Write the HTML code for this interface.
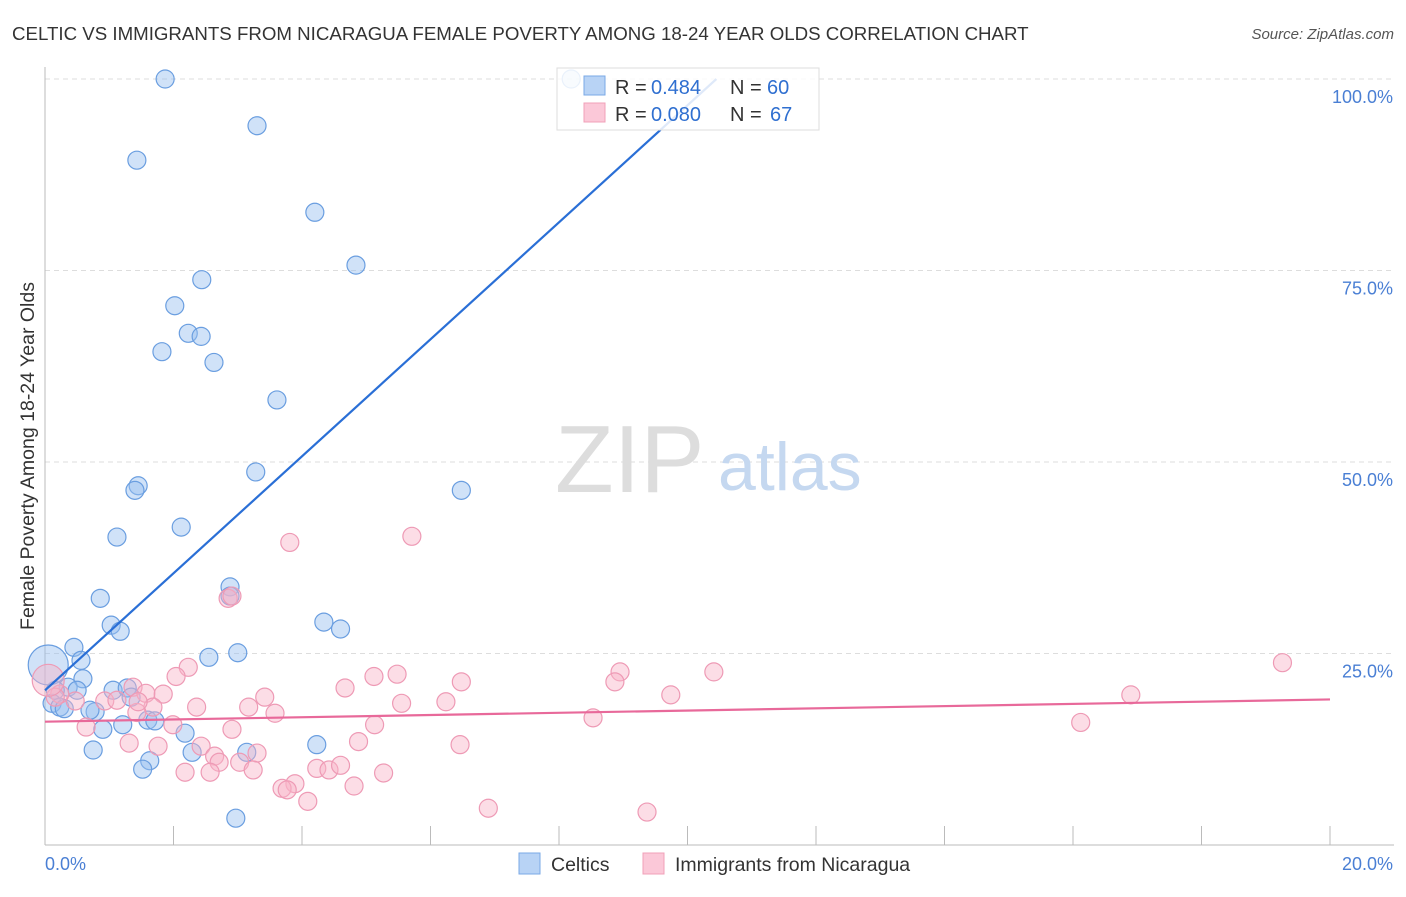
<!DOCTYPE html>
<html><head><meta charset="utf-8"><style>
body{margin:0;background:#fff;font-family:"Liberation Sans",sans-serif}
svg text{font-family:"Liberation Sans",sans-serif}
</style></head><body>
<svg id="c" width="1406" height="892">
<text x="12" y="40" font-size="18.7" fill="#333">CELTIC VS IMMIGRANTS FROM NICARAGUA FEMALE POVERTY AMONG 18-24 YEAR OLDS CORRELATION CHART</text>
<text x="1394" y="39" font-size="15" fill="#555" text-anchor="end" font-style="italic">Source: ZipAtlas.com</text>
<text x="34" y="456" font-size="19.5" fill="#333" text-anchor="middle" transform="rotate(-90 34 456)">Female Poverty Among 18-24 Year Olds</text>
<g id="grid"></g>
<text x="555" y="492" font-size="96" fill="#ddd" font-family="Liberation Serif">ZIP</text>
<text x="718" y="490" font-size="68" fill="#c5d8f0">atlas</text>
<g id="pts"></g>
<g id="lines"></g>
<g>
<rect x="557" y="68" width="262" height="62" fill="rgba(255,255,255,0.85)" stroke="#ddd"/>
<rect x="584" y="76" width="21" height="19" fill="#b8d3f5" stroke="#7aa8e6"/>
<rect x="584" y="103" width="21" height="19" fill="#fbc8d8" stroke="#f0a0b8"/>
<text x="615" y="94" font-size="20" fill="#333">R =</text>
<text x="651" y="94" font-size="20" fill="#2f6fd0">0.484</text>
<text x="730" y="94" font-size="20" fill="#333">N =</text>
<text x="767" y="94" font-size="20" fill="#2f6fd0">60</text>
<text x="615" y="121" font-size="20" fill="#333">R =</text>
<text x="651" y="121" font-size="20" fill="#2f6fd0">0.080</text>
<text x="730" y="121" font-size="20" fill="#333">N =</text>
<text x="770" y="121" font-size="20" fill="#2f6fd0">67</text>
</g>
<g>
<rect x="519" y="853" width="21" height="21" fill="#b8d3f5" stroke="#7aa8e6"/>
<text x="551" y="871" font-size="19.5" fill="#333">Celtics</text>
<rect x="643" y="853" width="21" height="21" fill="#fbc8d8" stroke="#f0a0b8"/>
<text x="675" y="871" font-size="19.5" fill="#333">Immigrants from Nicaragua</text>
</g>
</svg>
<script>
const xTicks=[2,4,6,8,10,12,14,16,18,20];
const yTicks=[25,50,75,100];
const celticX=[1.87,3.3,1.43,4.2,4.84,2.02,2.44,2.23,2.43,1.82,2.63,3.61,3.28,1.45,1.4,6.48,2.12,1.12,2.88,2.88,0.86,1.03,1.17,4.34,4.6,0.45,3.0,2.55,0.56,0.59,0.36,0.5,1.06,1.28,1.34,0.16,0.11,0.23,0.78,0.7,1.6,1.71,0.9,0.3,1.21,2.18,0.75,2.29,4.23,1.63,1.52,2.97,0.05,3.14,8.19];
const celticY=[100,93.9,89.4,82.6,75.7,70.4,73.8,66.8,66.4,64.4,63,58.1,48.7,46.9,46.3,46.3,41.5,40.2,33.7,32.5,32.2,28.7,27.9,29.1,28.2,25.8,25.1,24.5,24.1,21.7,20.6,20.2,20.2,20.5,19.3,20.2,18.5,18,17.4,17.6,16.3,16.2,15.1,17.8,15.7,14.6,12.4,12.1,13.1,11,9.9,3.5,23.5,12.1,100];
const nicX=[3.81,5.71,2.85,19.26,10.41,8.95,8.87,16.9,9.74,6.48,5.12,5.48,4.67,2.23,2.04,3.42,1.37,1.57,1.84,0.93,5.55,6.24,2.36,3.58,1.68,1.12,1.43,0.47,0.23,0.16,1.99,2.91,16.12,8.53,5.13,4.88,1.31,1.76,2.43,6.46,0.64,2.64,2.71,3.03,3.3,2.18,2.57,3.24,4.23,4.42,4.6,5.27,3.89,3.69,3.77,4.81,4.09,6.9,9.37,0.05,3.17,1.45,2.91];
const nicY=[39.5,40.3,32.2,23.8,22.6,22.6,21.3,19.6,19.6,21.3,22,22.3,20.5,23.2,22,19.3,20.6,19.8,19.7,18.8,18.5,18.7,18,17.2,18,18.9,17.3,18.8,19.7,19.3,15.7,15.1,16,16.6,15.7,13.5,13.3,12.9,12.9,13.1,15.4,11.6,10.8,10.8,12,9.5,9.5,9.8,10,9.8,10.4,9.4,8,7.4,7.2,7.7,5.7,4.8,4.3,21.5,18,18.7,32.5];
const celticBig=[52];const nicBig=[59];
const blueLine=[[0,20.2],[10.45,100]];const pinkLine=[[0,16.1],[20,19]];
const X=v=>45+v/20*1285, Y=v=>845-v/100*766;
const NS="http://www.w3.org/2000/svg";
function mk(t,a,p){const e=document.createElementNS(NS,t);for(const k in a)e.setAttribute(k,a[k]);p.appendChild(e);return e;}
const g=document.getElementById('grid');
yTicks.forEach(t=>{const l=mk('line',{x1:45,x2:1394,y1:Y(t),y2:Y(t),stroke:'#ddd','stroke-dasharray':'5,4'},g);


const tx=mk('text',{x:1393,y:Y(t)+24,'font-size':18,fill:'#4a7fd4','text-anchor':'end'},g);tx.textContent=t.toFixed(1)+'%';

});
mk('line',{x1:45,x2:45,y1:67,y2:845,stroke:'#bbb'},g);
mk('line',{x1:45,x2:1394,y1:845,y2:845,stroke:'#bbb'},g);
xTicks.forEach(t=>{const l=mk('line',{x1:X(t),x2:X(t),y1:826,y2:845,stroke:'#bbb'},g);

});
[[0,'0.0%','start',45],[20,'20.0%','end',1393]].forEach(a=>{const tx=mk('text',{x:a[3],y:870,'font-size':18,fill:'#4a7fd4','text-anchor':a[2]},g);tx.textContent=a[1];

});
const p=document.getElementById('pts');
celticX.forEach((v,i)=>{const c=mk('circle',{cx:X(v),cy:Y(celticY[i]),r:celticBig.includes(i)?20:9,fill:'rgba(150,190,240,0.45)',stroke:'#6a9ee0','stroke-width':1.2},p);

});
nicX.forEach((v,i)=>{const c=mk('circle',{cx:X(v),cy:Y(nicY[i]),r:nicBig.includes(i)?16:9,fill:'rgba(248,180,200,0.45)',stroke:'#ee9ab5','stroke-width':1.2},p);

});
const L=document.getElementById('lines');
const b=mk('line',{x1:X(blueLine[0][0]),y1:Y(blueLine[0][1]),x2:X(blueLine[1][0]),y2:Y(blueLine[1][1]),stroke:'#2a6fd6','stroke-width':2.2},L);


const pl=mk('line',{x1:X(pinkLine[0][0]),y1:Y(pinkLine[0][1]),x2:X(pinkLine[1][0]),y2:Y(pinkLine[1][1]),stroke:'#e8699a','stroke-width':2.2},L);


</script>
</body></html>
